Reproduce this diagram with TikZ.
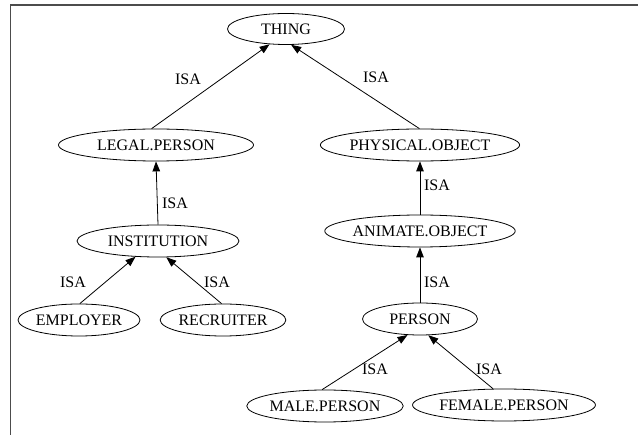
\documentclass[tikz,border=0pt]{standalone}
\usepackage{fontspec}
\setmainfont{Liberation Serif}
\usetikzlibrary{shapes.geometric,arrows.meta}
\begin{document}
\begin{tikzpicture}[x=1pt,y=-1pt,
  ent/.style={ellipse,draw,line width=0.8pt,inner sep=0pt,minimum height=32pt,font=\fontsize{16}{18}\selectfont},
  isa/.style={font=\fontsize{16}{18}\selectfont,inner sep=0pt},
  rel/.style={line width=0.8pt,-{Triangle[length=10pt,width=7.5pt]}},
  frameline/.style={line width=1.3pt,draw=black!70}]
\useasboundingbox (0,0) rectangle (638,435);
\draw[frameline] (10.5,435) -- (10.5,5) -- (638,5);

\node[ent,minimum width=117pt,minimum height=31pt] (thing) at (286,29) {THING};
\node[ent,minimum width=195pt] (legal) at (156,145) {LEGAL.PERSON};
\node[ent,minimum width=185pt] (phys) at (420,145) {PHYSICAL.OBJECT};
\node[ent,minimum width=162pt] (inst) at (158,241) {INSTITUTION};
\node[ent,minimum width=183pt] (anim) at (420,231) {ANIMATE.OBJECT};
\node[ent,minimum width=116pt] (empl) at (79,320) {EMPLOYER};
\node[ent,minimum width=116pt] (recr) at (223,320) {RECRUITER};
\node[ent,minimum width=115pt] (pers) at (420,319) {PERSON};
\node[ent,minimum width=150pt] (male) at (325,406) {MALE.PERSON};
\node[ent,minimum width=162pt] (fem) at (504,405) {FEMALE.PERSON};

\draw[rel] (legal.105) -- (thing.223);
\draw[rel] (phys.92) -- (thing.288);
\draw[rel] (inst.north) -- (legal.south);
\draw[rel] (empl.87) -- (inst.215);
\draw[rel] (recr.95) -- (inst.297);
\draw[rel] (anim.north) -- (phys.south);
\draw[rel] (pers.north) -- (anim.south);
\draw[rel] (male.100) -- (pers.232);
\draw[rel] (fem.124) -- (pers.297);

\node[isa] (l1) at (188,79) {ISA};
\node[isa] (l2) at (376,77) {ISA};
\node[isa] (l3) at (175,203) {ISA};
\node[isa] (l4) at (73,282) {ISA};
\node[isa] (l5) at (217,282) {ISA};
\node[isa] (l6) at (437,185) {ISA};
\node[isa] (l7) at (437,282) {ISA};
\node[isa] (l8) at (375,369) {ISA};
\node[isa] (l9) at (489,369) {ISA};
\end{tikzpicture}
\end{document}
